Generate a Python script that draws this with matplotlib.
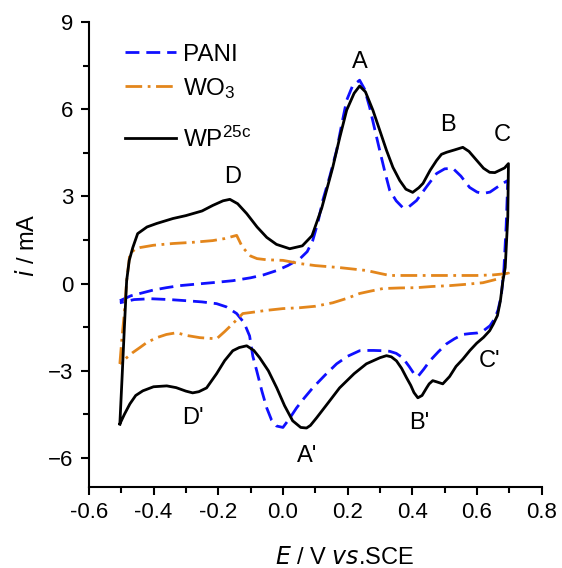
import matplotlib
matplotlib.use("Agg")
import matplotlib.pyplot as plt
from matplotlib.ticker import MultipleLocator

plt.rcParams['font.family'] = ['Liberation Sans', 'DejaVu Sans']
plt.rcParams['mathtext.default'] = 'regular'

# PANI: anodic sweep then cathodic sweep
pani_fwd_e = [-0.504, -0.47, -0.442, -0.40, -0.36, -0.319, -0.25, -0.20, -0.155, -0.10,
              -0.06, -0.019, 0.015, 0.052, 0.075, 0.092, 0.108, 0.123, 0.145, 0.166,
              0.182, 0.197, 0.215, 0.237, 0.252, 0.268, 0.284, 0.299, 0.315, 0.33,
              0.35, 0.37, 0.39, 0.413, 0.445, 0.475, 0.50, 0.525, 0.55, 0.577,
              0.60, 0.618, 0.64, 0.661, 0.68, 0.695]
pani_fwd_i = [-0.59, -0.42, -0.34, -0.22, -0.14, -0.07, 0.0, 0.05, 0.1, 0.2,
              0.3, 0.45, 0.62, 0.85, 1.1, 1.48, 2.1, 2.86, 3.7, 4.59,
              5.5, 6.31, 6.8, 7.0, 6.7, 6.07, 5.3, 4.59, 3.85, 3.21,
              2.85, 2.62, 2.65, 2.86, 3.35, 3.79, 3.95, 3.97, 3.7, 3.31,
              3.15, 3.1, 3.15, 3.31, 3.45, 3.55]
pani_rev_e = [0.695, 0.690, 0.683, 0.675, 0.665, 0.655, 0.64, 0.62, 0.60, 0.578,
              0.556, 0.53, 0.506, 0.48, 0.454, 0.435, 0.417, 0.405, 0.39, 0.37,
              0.35, 0.33, 0.309, 0.28, 0.26, 0.237, 0.2, 0.166, 0.13, 0.092,
              0.065, 0.042, 0.02, 0.0, -0.02, -0.035, -0.05, -0.065, -0.081, -0.093,
              -0.103, -0.12, -0.143, -0.175, -0.205, -0.25, -0.297, -0.35, -0.41, -0.46,
              -0.504]
pani_rev_i = [3.55, 2.0, 0.5, -0.4, -0.9, -1.2, -1.45, -1.62, -1.7, -1.72,
              -1.75, -1.9, -2.07, -2.35, -2.66, -2.95, -3.2, -3.1, -2.85, -2.55,
              -2.4, -2.33, -2.31, -2.3, -2.3, -2.31, -2.5, -2.76, -3.15, -3.59,
              -3.95, -4.28, -4.65, -4.95, -4.9, -4.7, -4.28, -3.7, -3.0, -2.5,
              -1.8, -1.35, -1.03, -0.8, -0.69, -0.63, -0.59, -0.55, -0.52, -0.55,
              -0.66]

# WO3
wo3_fwd_e = [-0.504, -0.497, -0.49, -0.483, -0.473, -0.455, -0.442, -0.40, -0.34, -0.28,
             -0.217, -0.18, -0.143, -0.125, -0.10, -0.08, -0.05, 0.0, 0.052, 0.1,
             0.176, 0.259, 0.30, 0.33, 0.40, 0.463, 0.53, 0.599, 0.65, 0.686, 0.697]
wo3_fwd_i = [-2.76, -1.8, -1.0, 0.1, 1.03, 1.2, 1.24, 1.32, 1.38, 1.42,
             1.48, 1.55, 1.66, 1.25, 0.95, 0.86, 0.82, 0.8, 0.69, 0.62,
             0.55, 0.45, 0.35, 0.28, 0.28, 0.28, 0.28, 0.28, 0.3, 0.34, 0.36]
wo3_rev_e = [0.697, 0.68, 0.65, 0.618, 0.56, 0.515, 0.46, 0.413, 0.36, 0.309,
             0.27, 0.237, 0.2, 0.154, 0.1, 0.052, 0.0, -0.05, -0.103, -0.124,
             -0.155, -0.18, -0.205, -0.257, -0.30, -0.328, -0.36, -0.39, -0.421, -0.442,
             -0.465, -0.483, -0.497, -0.504]
wo3_rev_i = [0.36, 0.21, 0.12, 0.03, -0.03, -0.07, -0.1, -0.14, -0.15, -0.17,
             -0.26, -0.34, -0.5, -0.66, -0.78, -0.83, -0.86, -0.92, -1.0, -1.03,
             -1.38, -1.65, -1.9, -1.86, -1.78, -1.69, -1.75, -1.86, -2.03, -2.2,
             -2.38, -2.55, -2.7, -2.76]

# WP25c composite
wp_fwd_e = [-0.504, -0.497, -0.490, -0.483, -0.475, -0.464, -0.449, -0.42, -0.39, -0.34,
            -0.30, -0.25, -0.217, -0.185, -0.164, -0.14, -0.112, -0.08, -0.05, -0.02,
            0.021, 0.06, 0.09, 0.12, 0.154, 0.175, 0.197, 0.22, 0.237, 0.255,
            0.278, 0.30, 0.32, 0.34, 0.361, 0.38, 0.401, 0.42, 0.433, 0.455,
            0.475, 0.49, 0.506, 0.53, 0.556, 0.575, 0.599, 0.62, 0.639, 0.655,
            0.670, 0.685, 0.697]
wp_fwd_i = [-4.83, -3.2, -1.5, 0.1, 0.8, 1.24, 1.72, 1.95, 2.07, 2.24,
            2.34, 2.5, 2.69, 2.85, 2.9, 2.75, 2.41, 1.95, 1.59, 1.35,
            1.2, 1.3, 1.65, 2.6, 4.0, 5.0, 5.97, 6.55, 6.8, 6.6,
            5.97, 5.25, 4.59, 4.0, 3.55, 3.25, 3.14, 3.3, 3.45, 3.9,
            4.24, 4.45, 4.52, 4.6, 4.69, 4.55, 4.24, 3.97, 3.83, 3.82,
            3.9, 3.98, 4.13]
wp_rev_e = [0.697, 0.695, 0.687, 0.680, 0.672, 0.663, 0.650, 0.639, 0.62, 0.599,
            0.578, 0.556, 0.535, 0.515, 0.494, 0.475, 0.463, 0.452, 0.444, 0.430,
            0.417, 0.405, 0.395, 0.382, 0.367, 0.351, 0.335, 0.320, 0.30, 0.28,
            0.258, 0.22, 0.175, 0.14, 0.104, 0.085, 0.073, 0.055, 0.030, 0.005,
            -0.019, -0.045, -0.072, -0.09, -0.112, -0.135, -0.155, -0.18, -0.205, -0.236,
            -0.26, -0.279, -0.30, -0.33, -0.359, -0.40, -0.433, -0.455, -0.473, -0.49,
            -0.504]
wp_rev_i = [4.13, 2.3, 0.55, 0.1, -0.6, -1.1, -1.4, -1.62, -1.85, -2.05,
            -2.3, -2.6, -2.85, -3.2, -3.45, -3.38, -3.34, -3.45, -3.59, -3.85,
            -3.93, -3.75, -3.5, -3.24, -2.92, -2.66, -2.52, -2.48, -2.55, -2.65,
            -2.76, -3.1, -3.59, -4.1, -4.62, -4.88, -4.97, -4.95, -4.72, -4.2,
            -3.59, -3.0, -2.55, -2.3, -2.14, -2.2, -2.31, -2.65, -3.1, -3.59,
            -3.72, -3.76, -3.7, -3.58, -3.52, -3.55, -3.69, -3.85, -4.14, -4.5,
            -4.83]

peak_names = ['A', 'B', 'C', 'D', "A'", "B'", "C'", "D'"]
peak_e = [0.237, 0.51, 0.679, -0.155, 0.076, 0.422, 0.64, -0.279]
peak_i = [7.62, 5.45, 5.1, 3.66, -5.93, -4.79, -2.66, -4.62]

fig = plt.figure(figsize=(5.62, 5.68), dpi=100)
ax = fig.add_axes([0.158, 0.1426, 0.806, 0.8185])

l_pani, = ax.plot(pani_fwd_e + pani_rev_e, pani_fwd_i + pani_rev_i, color='#1010ff',
                  lw=2, dashes=(5, 2.5), label='PANI')
l_wo3, = ax.plot(wo3_fwd_e + wo3_rev_e, wo3_fwd_i + wo3_rev_i, color='#e3861c',
                 lw=2, dashes=(6, 2, 1, 2), label='WO$_3$')
l_wp, = ax.plot(wp_fwd_e + wp_rev_e, wp_fwd_i + wp_rev_i, color='black', lw=2,
                label='WP$^{25c}$')

for name, e, i in zip(peak_names, peak_e, peak_i):
    ax.text(e, i, name, ha='center', va='center', fontsize=17)

ax.set_xlim(-0.6, 0.8)
ax.set_ylim(-7, 9)
ax.xaxis.set_major_locator(MultipleLocator(0.2))
ax.xaxis.set_minor_locator(MultipleLocator(0.1))
ax.yaxis.set_major_locator(MultipleLocator(3))
ax.yaxis.set_minor_locator(MultipleLocator(1.5))
ax.xaxis.set_major_formatter(lambda v, p: f'{v:.1f}')
ax.tick_params(which='major', length=6, width=1.5, labelsize=16, pad=5)
ax.tick_params(which='minor', length=4, width=1.5)

for side in ['top', 'right']:
    ax.spines[side].set_visible(False)
for side in ['left', 'bottom']:
    ax.spines[side].set_linewidth(1.5)

ax.set_xlabel('$\\mathit{E}$ / V $\\mathit{vs}$.SCE', fontsize=17)
ax.xaxis.set_label_coords(0.565, -0.13)
ax.set_ylabel('$\\mathit{i}$ / mA', fontsize=17)
ax.yaxis.set_label_coords(-0.11, 0.52)

# the WP entry sits a little lower than the other two, so it gets its own legend
leg_kw = dict(frameon=False, fontsize=17.5, handlelength=2.1, handletextpad=0.3,
              labelspacing=0.4, loc='upper left')
leg1 = ax.legend(handles=[l_pani, l_wo3], bbox_to_anchor=(0.032, 1.0), **leg_kw)
ax.add_artist(leg1)
ax.legend(handles=[l_wp], bbox_to_anchor=(0.032, 0.823), **leg_kw)

fig.savefig('out.png', dpi=100)
